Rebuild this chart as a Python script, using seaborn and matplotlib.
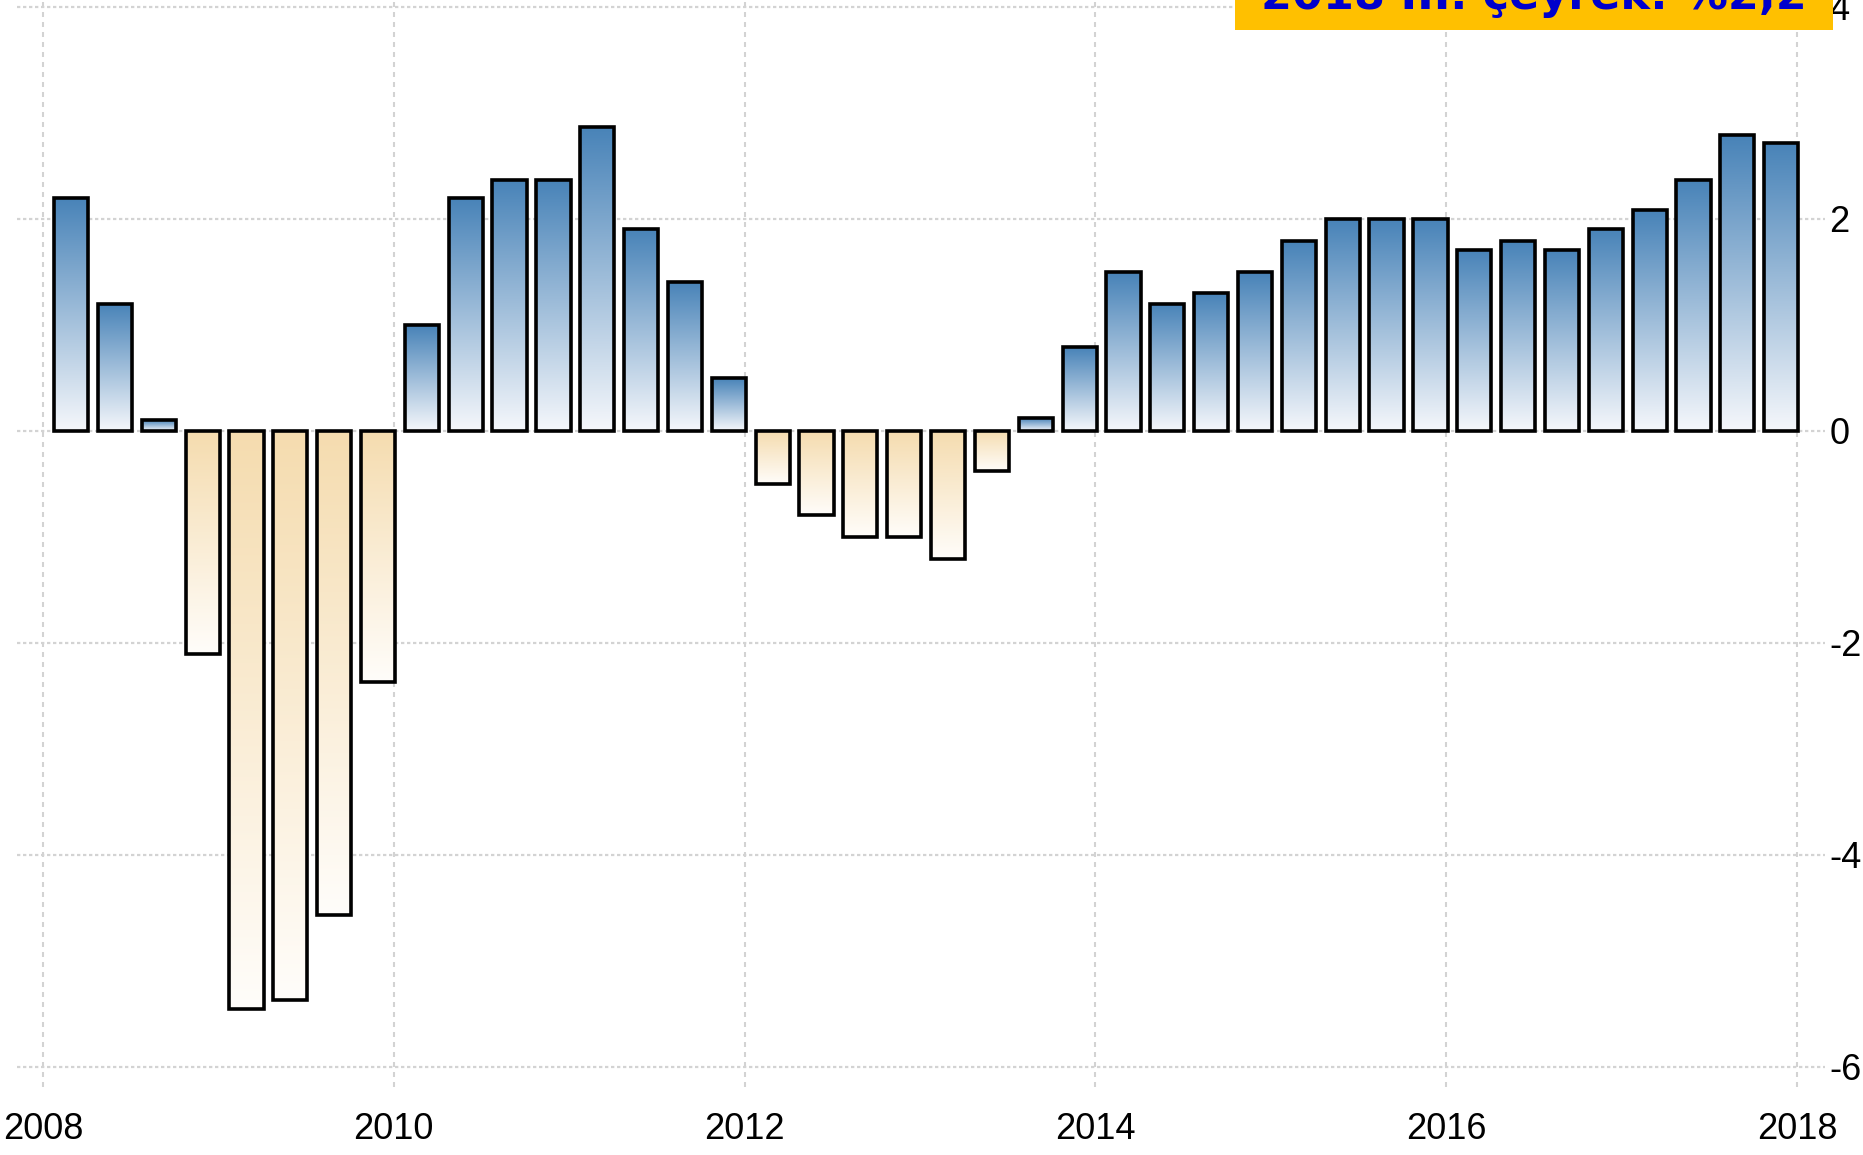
import numpy as np
import pandas as pd
import matplotlib
matplotlib.use("Agg")
import matplotlib.pyplot as plt
import seaborn as sns
from matplotlib.colors import to_rgb
from matplotlib.patches import Rectangle

# Quarterly growth, 2008Q1 - 2017Q4 (%)
years = [y for y in range(2008, 2018) for _ in range(4)]
quarters = [1, 2, 3, 4] * 10
values = [2.2, 1.2, 0.1, -2.1,
          -5.45, -5.37, -4.57, -2.37,
          1.0, 2.2, 2.37, 2.37,
          2.87, 1.91, 1.41, 0.5,
          -0.5, -0.79, -1.0, -1.0,
          -1.21, -0.38, 0.12, 0.79,
          1.5, 1.2, 1.3, 1.5,
          1.79, 2.0, 2.0, 2.0,
          1.71, 1.79, 1.71, 1.91,
          2.08, 2.37, 2.79, 2.72]
tick_years = list(range(2008, 2019, 2))
y_ticks = [-6, -4, -2, 0, 2, 4]
badge_text = "2018 III. çeyrek: %2,2"

sns.set_style("white")
tick_font = ["Liberation Sans", "DejaVu Sans"]

W, H = 1863, 1155
fig = plt.figure(figsize=(W / 100, H / 100), dpi=100)
ax = fig.add_axes([17 / W, 1 - 1087 / H, (1825 - 17) / W, 1087 / H])

# bar centre sits a bit after the start of each quarter
xpos = [y + (q - 1) * 0.25 + 0.16 for y, q in zip(years, quarters)]
df = pd.DataFrame({"x": xpos, "v": values})

sns.barplot(data=df, x="x", y="v", native_scale=True, width=0.78,
            errorbar=None, color="white", edgecolor="black",
            linewidth=2.6, ax=ax, zorder=3)


def gradient(top, bottom, n=128):
    t = np.linspace(0, 1, n)[:, None]
    a, b = np.array(to_rgb(bottom)), np.array(to_rgb(top))
    return (a + (b - a) * t)[:, None, :]


blue = gradient("#4883b8", "#f5f7fb")
tan = gradient("#f5dcaf", "#fffdfa")

for p in ax.patches:
    p.set_facecolor("none")
    bb = p.get_bbox()
    x0, x1, y0, y1 = bb.x0, bb.x1, min(bb.y0, bb.y1), max(bb.y0, bb.y1)
    img = blue if y1 > 1e-9 else tan
    im = ax.imshow(img, extent=[x0, x1, y0, y1], origin="lower",
                   aspect="auto", zorder=2.9, interpolation="bilinear")

ax.set_xlim(2008 + (17 - 43) / 175.4, 2008 + (1825 - 43) / 175.4)
ax.set_ylim(-6.19, 4.066)

ax.set_xticks(tick_years)
ax.set_xticklabels([str(y) for y in tick_years])
ax.set_yticks(y_ticks)
ax.yaxis.tick_right()
ax.set_yticklabels([str(v) for v in y_ticks])
ax.tick_params(axis="x", length=0, pad=18, labelsize=26, colors="black")
ax.tick_params(axis="y", length=0, pad=3, labelsize=26, colors="black")
for lab in ax.get_xticklabels() + ax.get_yticklabels():
    lab.set_family(tick_font)
for lab in ax.get_yticklabels():
    lab.set_horizontalalignment("left")

ax.set_xlabel("")
ax.set_ylabel("")
for s in ax.spines.values():
    s.set_visible(False)

ax.set_axisbelow(True)
ax.xaxis.grid(True, color="#d3d3d3", linewidth=1.5, linestyle=(0, (2.4, 2.4)))
ax.yaxis.grid(True, color="#d3d3d3", linewidth=1.6, linestyle=(0, (1.5, 1.2)))

# yellow badge at the top, partly cut off
fig.add_artist(Rectangle((1235 / W, 1 - 30 / H), 598 / W, 40 / H,
                         transform=fig.transFigure, facecolor="#ffc000",
                         edgecolor="none", zorder=5))
fig.text(1534 / W, 1 - 9 / H, badge_text, ha="center", va="baseline",
         fontsize=32, fontweight="bold", color="#0000cc", zorder=6)

fig.savefig("out.png", dpi=100)
